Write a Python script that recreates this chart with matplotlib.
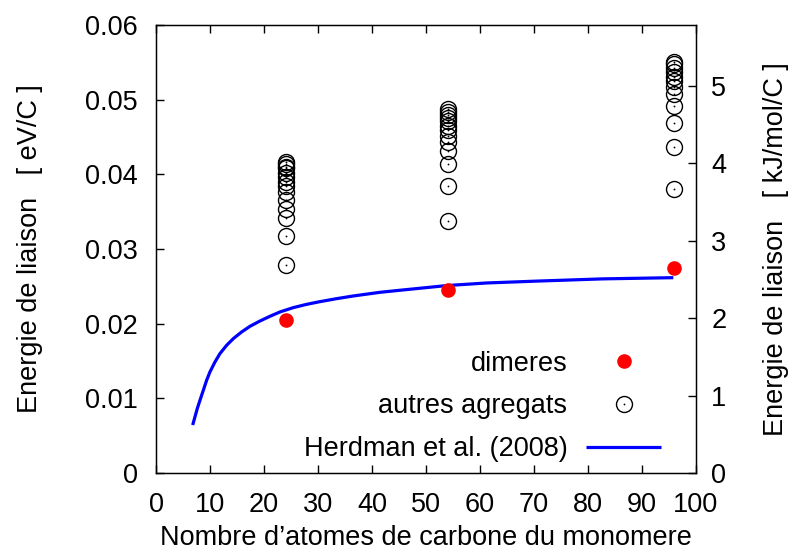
import matplotlib
matplotlib.use("Agg")
import matplotlib.pyplot as plt
from matplotlib.legend_handler import HandlerTuple

plt.rcParams['font.family'] = ['Liberation Sans', 'DejaVu Sans']

# Data
n_dimer = [24, 54, 96]
e_dimer = [0.0205, 0.0245, 0.0275]

n_c24 = [24] * 14
e_c24 = [0.0417, 0.0414, 0.0410, 0.0408, 0.0402, 0.0397, 0.0390,
         0.0384, 0.0376, 0.0365, 0.0353, 0.0341, 0.0317, 0.0279]
n_c54 = [54] * 13
e_c54 = [0.0487, 0.0484, 0.0480, 0.0476, 0.0471, 0.0465, 0.0459,
         0.0452, 0.0443, 0.0431, 0.0414, 0.0385, 0.0338]
n_c96 = [96] * 12
e_c96 = [0.0551, 0.0548, 0.0543, 0.0537, 0.0531, 0.0525, 0.0517,
         0.0507, 0.0491, 0.0469, 0.0436, 0.0381]

n_herdman = [6.79, 7.22, 7.65, 8.15, 8.77, 9.38, 10.0, 10.93, 11.85, 13.09,
             14.32, 15.86, 17.41, 19.26, 21.11, 22.96, 25.43, 27.90, 30.37,
             33.46, 36.54, 41.48, 45.8, 53.8, 61.2, 70.5, 82.8, 95.8]
e_herdman = [0.00642, 0.00753, 0.00865, 0.00976, 0.01110, 0.01243, 0.01355,
             0.01488, 0.01600, 0.01711, 0.01800, 0.01889, 0.01965, 0.02036,
             0.02099, 0.02157, 0.02215, 0.02259, 0.02295, 0.02335, 0.02371,
             0.02420, 0.02452, 0.02510, 0.02545, 0.02570, 0.02600, 0.02616]

xticks = [0, 10, 20, 30, 40, 50, 60, 70, 80, 90, 100]
yticks = [0, 0.01, 0.02, 0.03, 0.04, 0.05, 0.06]
ytick_labels = ['0', '0.01', '0.02', '0.03', '0.04', '0.05', '0.06']
y2ticks = [0, 1, 2, 3, 4, 5]
EV_TO_KJ = 96.485

FS = 19.5

fig = plt.figure(figsize=(7.92, 5.56), dpi=100)
ax = fig.add_axes([156/792, 1 - 473/556, 540/792, 448/556])

n_agg = n_c24 + n_c54 + n_c96
e_agg = e_c24 + e_c54 + e_c96

h_dimer, = ax.plot(n_dimer, e_dimer, 'o', color='#ff0000', mec='none', ms=10.5, zorder=3)
h_circ, = ax.plot(n_agg, e_agg, 'o', mfc='none', mec='black', mew=1.0, ms=11.5, zorder=3)
h_dot, = ax.plot(n_agg, e_agg, 'o', color='black', ms=1.3, mec='none', zorder=3)
h_line, = ax.plot(n_herdman, e_herdman, '-', color='#0000ff', lw=2.3, zorder=2,
                  solid_capstyle='butt', solid_joinstyle='round')

ax.set_xlim(0, 100)
ax.set_ylim(0, 0.06)
ax.set_xticks(xticks)
ax.set_yticks(yticks)
ax.set_yticklabels(ytick_labels)
ax.tick_params(axis='both', direction='in', length=6, width=1, labelsize=FS)
ax.tick_params(axis='x', top=True, bottom=True, pad=14)
ax.tick_params(axis='y', left=True, right=False, pad=13)
for s in ax.spines.values():
    s.set_linewidth(1.0)

ax.set_xlabel("Nombre d\u2019atomes de carbone du monomere", fontsize=FS, labelpad=5)
ax.set_ylabel("Energie de liaison   [ eV/C ]", fontsize=FS, labelpad=30)

ax2 = ax.twinx()
ax2.set_ylim(0, 0.06 * EV_TO_KJ)
ax2.set_yticks(y2ticks)
ax2.tick_params(axis='y', direction='in', length=6, width=1, labelsize=FS, pad=11)
ax2.set_ylabel("Energie de liaison   [ kJ/mol/C ]", fontsize=FS, rotation=90, labelpad=26)
ax2.yaxis.set_label_position('right')

leg = ax.legend([h_dimer, (h_circ, h_dot), h_line],
                ['dimeres', 'autres agregats', 'Herdman et al. (2008)'],
                handler_map={tuple: HandlerTuple(ndivide=1, pad=0)},
                loc='lower right', bbox_to_anchor=(0.950, 0.006), borderaxespad=0.0,
                borderpad=0.3, frameon=False, markerfirst=False, fontsize=FS,
                handlelength=2.75, handletextpad=0.7, labelspacing=0.62)

fig.savefig('out.png', dpi=100)
